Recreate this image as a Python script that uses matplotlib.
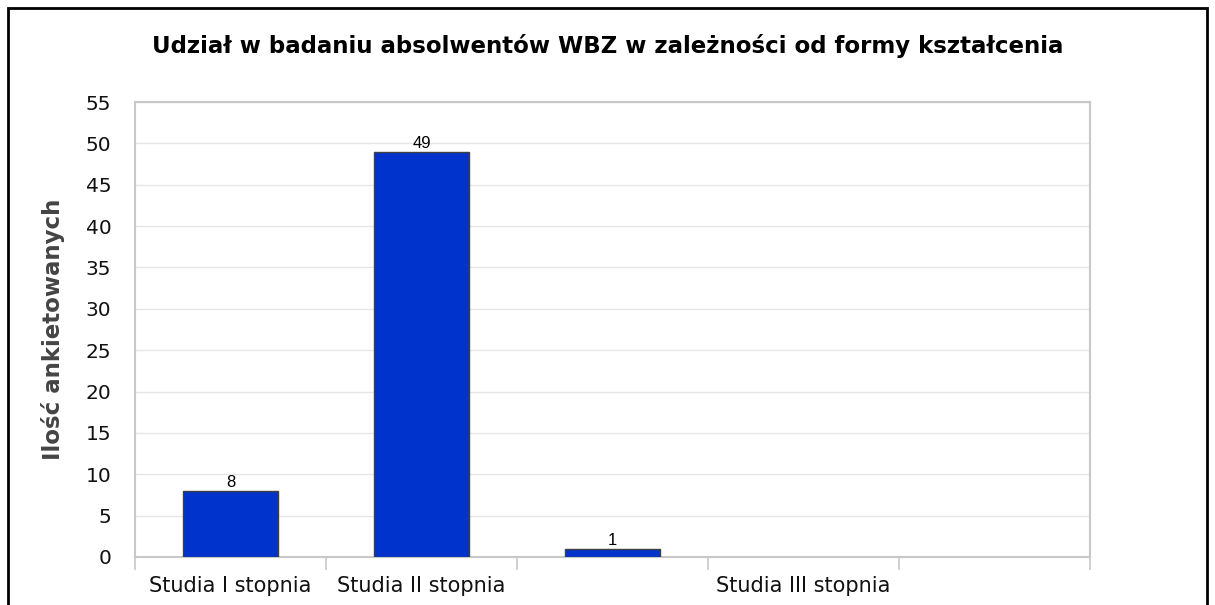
import matplotlib
matplotlib.use("Agg")
import matplotlib.pyplot as plt
from matplotlib.patches import Rectangle

categories = ["Studia I stopnia", "Studia II stopnia", "", "Studia III stopnia", ""]
values = [8, 49, 1, None, None]
bar_labels = ["8", "49", "1", "", ""]
yticks = list(range(0, 56, 5))

fig = plt.figure(figsize=(12.15, 6.05), dpi=100)
ax = fig.add_axes([135 / 1215, 1 - 557 / 605, (1090 - 135) / 1215, (557 - 102) / 605])

x = list(range(len(categories)))
bx = [i for i, v in zip(x, values) if v is not None]
bv = [v for v in values if v is not None]
bars = ax.bar(bx, bv, width=0.5, color="#0033cc", edgecolor="#404040", linewidth=1, zorder=3)
for b, lab in zip(bars, bar_labels):
    ax.text(b.get_x() + b.get_width() / 2, b.get_height() + 0.05, lab,
            ha="center", va="bottom", fontsize=12, family="Liberation Sans", zorder=4)

ax.set_xlim(-0.5, len(categories) - 0.5)
ax.set_ylim(0, 55)
ax.set_yticks(yticks)
ax.set_xticks([i - 0.5 for i in range(len(categories) + 1)], minor=False)
ax.set_xticklabels([])
ax.set_xticks(x, minor=True)
ax.set_xticklabels(categories, minor=True, fontsize=15, family="DejaVu Sans", color="#111111")
ax.tick_params(axis="x", which="minor", length=0, pad=14)
ax.tick_params(axis="x", which="major", length=9, color="#c8c8c8", width=1.2)
ax.tick_params(axis="y", length=0, pad=17, labelsize=14.5, labelcolor="#111111")

ax.grid(axis="y", color="#e6e6e6", linewidth=1, zorder=0)
for s in ax.spines.values():
    s.set_color("#c8c8c8")
    s.set_linewidth(1.5)

ax.set_ylabel("Ilość ankietowanych", fontsize=16.5, fontweight="bold", color="#444444",
              family="DejaVu Sans", labelpad=15)
fig.text(0.5, 1 - 46 / 605, "Udział w badaniu absolwentów WBZ w zależności od formy kształcenia",
         ha="center", va="center", fontsize=16.5, fontweight="bold", family="DejaVu Sans")

fig.patches.append(Rectangle((8 / 1215, -0.05), 1199 / 1215, 1.05 - 8 / 605, transform=fig.transFigure,
                             fill=False, edgecolor="black", linewidth=2))

fig.savefig("out.png", dpi=100)
